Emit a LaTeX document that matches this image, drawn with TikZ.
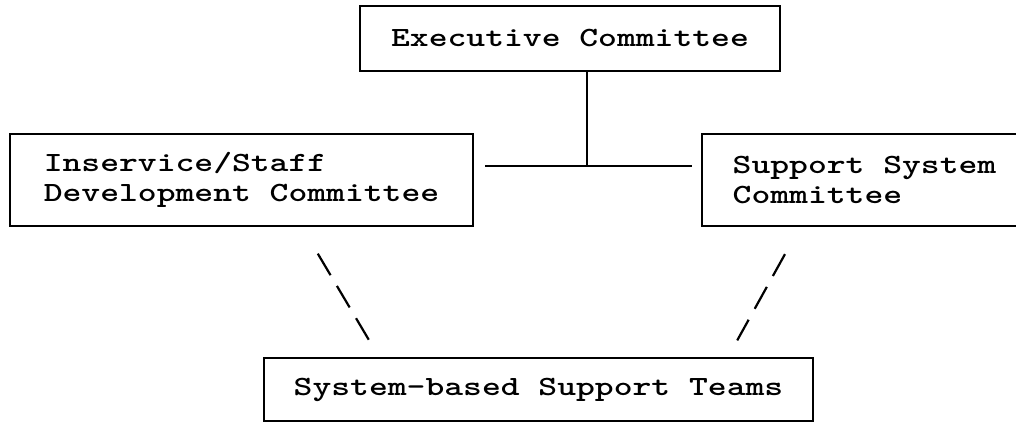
\documentclass[tikz,border=0pt]{standalone}
\usepackage{graphicx}
\newcommand{\wtt}[1]{\scalebox{1.29}[1]{#1}}
\tikzset{
  cbox/.style={draw,anchor=north west,align=left,font=\ttfamily\bfseries\fontsize{27.8}{30}\selectfont},
  slashes/.style={line width=2.2pt,dash pattern=on 25pt off 12.5pt}
}
\begin{document}
\begin{tikzpicture}[x=1pt,y=-1pt,line width=2pt]
\useasboundingbox (0,0) rectangle (1016,422);
\node[cbox,minimum width=420pt,minimum height=65pt] (exec) at (359,5) {\wtt{Executive Committee}};
\node[cbox,minimum width=463pt,minimum height=92pt] (inserv) at (9,133) {\wtt{Inservice/Staff}\\\wtt{Development Committee}};
\node[cbox,minimum width=325pt,minimum height=92pt] (support) at (701,133) {\wtt{Support System}\\\wtt{Committee}};
\node[cbox,minimum width=549pt,minimum height=63pt] (teams) at (263,357) {\wtt{System-based Support Teams}};
\coordinate (join) at (587,166);
\draw (exec.south -| join) -- (join);
\draw[shorten <=11pt,shorten >=9pt] (inserv.east |- join) -- (support.west |- join);
\draw[slashes,shorten <=31pt,shorten >=20pt] ([xshift=293pt]inserv.south west) -- ([xshift=116pt]teams.north west);
\draw[slashes,shorten <=31pt,shorten >=19pt] ([xshift=99pt]support.south west) -- ([xshift=465pt]teams.north west);
\end{tikzpicture}
\end{document}
